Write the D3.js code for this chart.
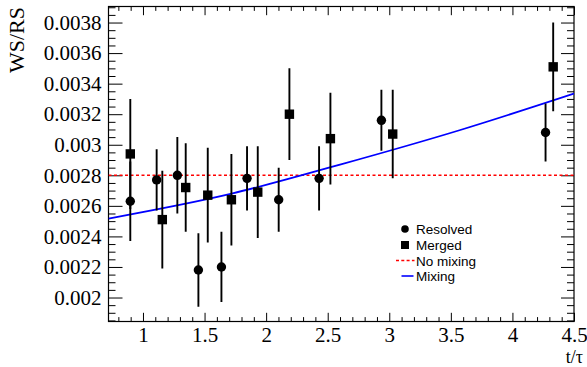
<!DOCTYPE html>
<html><head><meta charset="utf-8">
<script src="https://cdn.jsdelivr.net/npm/d3@7"></script>
<style>body{margin:0;background:#fff}svg{display:block}</style>
</head><body>
<svg id="c" width="587" height="367"></svg>
<script>
// ---- data ----
const resolvedT   = [0.897, 1.111, 1.279, 1.450, 1.637, 1.845, 2.102, 2.430, 2.936, 4.269];
const resolvedY   = [0.00263, 0.00277, 0.00280, 0.00218, 0.00220, 0.00278, 0.00264, 0.00278, 0.00316, 0.00308];
const resolvedErr = [0.00026, 0.00020, 0.00025, 0.00024, 0.00023, 0.00021, 0.00021, 0.00021, 0.00020, 0.00019];

const mergedT   = [0.897, 1.157, 1.347, 1.526, 1.718, 1.932, 2.189, 2.522, 3.028, 4.331];
const mergedY   = [0.00294, 0.00251, 0.00272, 0.00267, 0.00264, 0.00269, 0.00320, 0.00304, 0.00307, 0.00351];
const mergedErr = [0.00036, 0.00032, 0.00029, 0.00031, 0.00030, 0.00030, 0.00030, 0.00030, 0.00029, 0.00029];

const noMixingLevel = 0.0028;
const mixingT = [0.72, 1.72, 2.6, 3.57, 4.5];
const mixingY = [0.002517, 0.00268, 0.00287, 0.003095, 0.003335];

const xTickValues = [1, 1.5, 2, 2.5, 3, 3.5, 4, 4.5];
const xTickLabels = ["1", "1.5", "2", "2.5", "3", "3.5", "4", "4.5"];
const yTickValues = [0.002, 0.0022, 0.0024, 0.0026, 0.0028, 0.003, 0.0032, 0.0034, 0.0036, 0.0038];
const yTickLabels = ["0.002", "0.0022", "0.0024", "0.0026", "0.0028", "0.003", "0.0032", "0.0034", "0.0036", "0.0038"];

const legendLabels = ["Resolved", "Merged", "No mixing", "Mixing"];
const xTitle = "t/\u03c4";
const yTitle = "WS/RS";

// ---- layout ----
const L = 108.5, R = 574, T = 6.5, B = 321.5;
const x = d3.scaleLinear().domain([0.72, 4.5]).range([L, R]);
const y = d3.scaleLinear().domain([0.001843, 0.003905]).range([B, T]);

const svg = d3.select("#c");
const serif = "'Liberation Serif','Times New Roman',serif";
const sans = "'Liberation Sans',Arial,Helvetica,sans-serif";

// minor tick values
const xMinor = d3.range(8, 46).map(v => v / 10).filter(v => !xTickValues.some(m => Math.abs(m - v) < 1e-9));
const yMinor = d3.range(37, 79).map(v => v * 0.00005).filter(v => v >= 0.001843 && v <= 0.003905 && !yTickValues.some(m => Math.abs(m - v) < 1e-9));

function styleAxis(g) {
  g.select(".domain").remove();
  g.selectAll("line").attr("stroke", "#000").attr("stroke-width", 1);
}

// bottom axis
svg.append("g").attr("transform", `translate(0,${B})`)
  .call(d3.axisBottom(x).tickValues(xTickValues).tickFormat((d, i) => xTickLabels[i]).tickSize(-8.7).tickPadding(5.8))
  .call(styleAxis)
  .call(g => g.selectAll("text").attr("font-family", serif).attr("font-size", 21).attr("fill", "#000"));
svg.append("g").attr("transform", `translate(0,${B})`)
  .call(d3.axisBottom(x).tickValues(xMinor).tickFormat("").tickSize(-4.4)).call(styleAxis);
// top axis
svg.append("g").attr("transform", `translate(0,${T})`)
  .call(d3.axisTop(x).tickValues(xTickValues).tickFormat("").tickSize(-8.7)).call(styleAxis);
svg.append("g").attr("transform", `translate(0,${T})`)
  .call(d3.axisTop(x).tickValues(xMinor).tickFormat("").tickSize(-4.4)).call(styleAxis);
// left axis
svg.append("g").attr("transform", `translate(${L},0)`)
  .call(d3.axisLeft(y).tickValues(yTickValues).tickFormat((d, i) => yTickLabels[i]).tickSize(-14).tickPadding(7))
  .call(styleAxis)
  .call(g => g.selectAll("text").attr("font-family", serif).attr("font-size", 21).attr("fill", "#000"));
svg.append("g").attr("transform", `translate(${L},0)`)
  .call(d3.axisLeft(y).tickValues(yMinor).tickFormat("").tickSize(-7)).call(styleAxis);
// right axis
svg.append("g").attr("transform", `translate(${R},0)`)
  .call(d3.axisRight(y).tickValues(yTickValues).tickFormat("").tickSize(-13)).call(styleAxis);
svg.append("g").attr("transform", `translate(${R},0)`)
  .call(d3.axisRight(y).tickValues(yMinor).tickFormat("").tickSize(-7)).call(styleAxis);

// frame
svg.append("rect").attr("x", L).attr("y", T).attr("width", R - L).attr("height", B - T)
  .attr("fill", "none").attr("stroke", "#000").attr("stroke-width", 1.2);

// clip
svg.append("clipPath").attr("id", "clip").append("rect")
  .attr("x", L).attr("y", T).attr("width", R - L).attr("height", B - T);
const plot = svg.append("g").attr("clip-path", "url(#clip)");

// no mixing line
plot.append("line").attr("x1", x(0.72)).attr("x2", x(4.5))
  .attr("y1", y(noMixingLevel)).attr("y2", y(noMixingLevel))
  .attr("stroke", "#ff0000").attr("stroke-width", 1.6).attr("stroke-dasharray", "3,2.5");

// mixing curve
const mixPts = mixingT.map((t, i) => [t, mixingY[i]]);
plot.append("path").datum(mixPts)
  .attr("d", d3.line().x(d => x(d[0])).y(d => y(d[1])).curve(d3.curveMonotoneX))
  .attr("fill", "none").attr("stroke", "#0000ff").attr("stroke-width", 1.8);

// error bars
const resolved = resolvedT.map((t, i) => ({t, v: resolvedY[i], e: resolvedErr[i]}));
const merged = mergedT.map((t, i) => ({t, v: mergedY[i], e: mergedErr[i]}));
[resolved, merged].forEach(set => {
  plot.append("g").selectAll("line").data(set).join("line")
    .attr("x1", d => x(d.t)).attr("x2", d => x(d.t))
    .attr("y1", d => y(d.v - d.e)).attr("y2", d => y(d.v + d.e))
    .attr("stroke", "#000").attr("stroke-width", 1.9);
});
// markers
plot.append("g").selectAll("circle").data(resolved).join("circle")
  .attr("cx", d => x(d.t)).attr("cy", d => y(d.v)).attr("r", 4.7).attr("fill", "#000");
const sq = 9.4;
plot.append("g").selectAll("rect").data(merged).join("rect")
  .attr("x", d => x(d.t) - sq / 2).attr("y", d => y(d.v) - sq / 2)
  .attr("width", sq).attr("height", sq).attr("fill", "#000");

// legend
const lg = svg.append("g");
const rowsY = [229, 245, 260.5, 276];
lg.append("circle").attr("cx", 405).attr("cy", rowsY[0]).attr("r", 3.8).attr("fill", "#000");
lg.append("rect").attr("x", 401).attr("y", rowsY[1] - 4).attr("width", 8).attr("height", 8).attr("fill", "#000");
lg.append("line").attr("x1", 396).attr("x2", 414.5).attr("y1", rowsY[2]).attr("y2", rowsY[2])
  .attr("stroke", "#ff0000").attr("stroke-width", 1.4).attr("stroke-dasharray", "3,2.3");
lg.append("line").attr("x1", 401.5).attr("x2", 413.5).attr("y1", rowsY[3]).attr("y2", rowsY[3])
  .attr("stroke", "#0000ff").attr("stroke-width", 1.6);
lg.selectAll("text").data(legendLabels).join("text")
  .attr("x", 416).attr("y", (d, i) => rowsY[i] + 5)
  .attr("font-family", sans).attr("font-size", 13.5).attr("fill", "#000").text(d => d);

// axis titles
svg.append("text").attr("x", 583).attr("y", 362.6).attr("text-anchor", "end")
  .attr("font-family", serif).attr("font-size", 18).attr("fill", "#000").text(xTitle);
svg.append("text").attr("transform", "translate(24,7) rotate(-90)").attr("text-anchor", "end")
  .attr("font-family", serif).attr("font-size", 22).attr("fill", "#000").text(yTitle);
</script>
</body></html>
